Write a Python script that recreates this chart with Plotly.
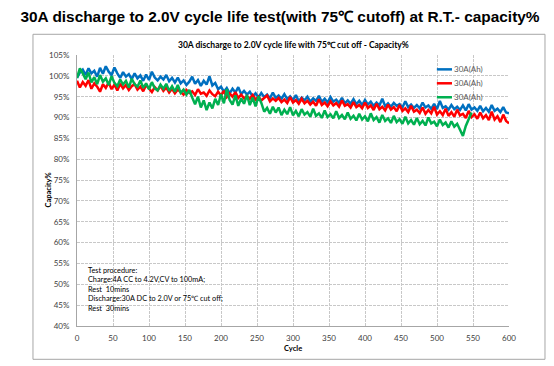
import plotly.graph_objects as go

# ---------------- data ----------------
step = 4
series_names = ["30A(Ah)", "30A(Ah)", "30A(Ah)"]
series_colors = ["#0070C0", "#FF0000", "#00B050"]

blue = [
    99.5, 100.8, 101.5, 100.2, 101.8, 100.6, 101.2, 99.8, 101.9, 100.5,
    102.3, 101.0, 100.2, 102.0, 100.6, 99.5, 100.9, 99.8, 100.4, 99.2,
    100.6, 99.4, 100.1, 98.8, 100.3, 99.0, 101.0, 99.6, 98.9, 99.8,
    99.1, 100.2, 98.7, 99.5, 98.4, 99.6, 98.2, 98.9, 97.8, 98.6,
    99.8, 98.1, 99.0, 97.6, 98.8, 97.9, 99.9, 97.7, 98.3, 96.8,
    97.4, 96.2, 97.1, 95.8, 96.9, 96.0, 97.3, 95.6, 96.4, 95.5,
    96.2, 95.0, 95.8, 94.8, 95.9, 94.9, 95.5, 94.6, 96.0, 94.7,
    95.3, 94.5, 95.6, 94.4, 95.1, 94.2, 95.4, 93.9, 94.8, 94.1,
    95.0, 93.8, 94.6, 94.0, 95.2, 93.7, 94.5, 93.6, 94.9, 93.8,
    94.3, 93.5, 94.7, 93.4, 94.1, 93.3, 94.4, 93.2, 94.0, 93.0,
    94.2, 93.1, 93.8, 92.8, 93.6, 92.9, 94.5, 92.7, 93.4, 92.6,
    93.5, 92.8, 93.2, 92.4, 93.9, 92.5, 93.1, 92.3, 93.0, 92.2,
    93.6, 92.4, 92.9, 92.1, 93.3, 92.0, 94.0, 92.3, 92.7, 91.9,
    93.0, 92.0, 92.6, 91.8, 92.9, 91.7, 93.2, 91.9, 92.4, 91.6,
    92.8, 91.5, 92.3, 91.4, 93.0, 91.6, 92.1, 91.3, 92.5, 91.2,
    91.0,
]

red = [
    98.8, 97.2, 98.5, 97.6, 99.0, 96.9, 98.2, 97.4, 96.2, 98.0,
    97.1, 98.4, 96.8, 97.9, 96.5, 98.1, 97.0, 97.8, 96.6, 97.5,
    98.0, 96.7, 97.4, 96.3, 97.8, 96.9, 96.1, 97.3, 96.5, 97.6,
    96.4, 97.2, 96.0, 96.9, 95.8, 96.7, 96.2, 95.5, 96.6, 95.9,
    96.3, 95.4, 96.8, 95.7, 96.0, 95.2, 96.5, 95.6, 95.1, 96.2,
    95.3, 96.4, 94.9, 95.8, 95.0, 96.1, 94.7, 95.5, 94.6, 95.2,
    94.5, 95.4, 94.3, 95.0, 94.1, 94.8, 95.3, 93.9, 94.6, 94.0,
    94.7, 93.7, 94.3, 93.5, 94.9, 93.6, 94.2, 93.3, 94.5, 93.4,
    94.0, 93.1, 93.8, 92.8, 94.4, 93.0, 93.6, 92.7, 93.9, 92.9,
    93.5, 92.6, 94.1, 92.8, 93.2, 92.4, 93.7, 92.5, 93.0, 92.2,
    93.6, 92.3, 92.9, 91.8, 93.3, 92.0, 92.6, 91.7, 93.1, 91.9,
    92.5, 91.5, 93.0, 91.6, 92.2, 91.3, 92.8, 91.4, 91.9, 91.1,
    92.4, 90.9, 91.8, 91.0, 92.6, 90.7, 91.5, 90.6, 92.1, 90.4,
    91.3, 90.2, 91.9, 90.5, 90.9, 89.9, 91.6, 90.1, 90.8, 89.7,
    91.2, 89.8, 90.6, 89.4, 91.4, 89.5, 90.3, 88.9, 90.7, 89.2,
    88.6,
]

green = [
    99.5, 101.8, 100.6, 99.2, 100.8, 98.4, 99.7, 98.0, 100.2, 98.6,
    99.4, 97.8, 99.9, 98.3, 97.5, 99.1, 97.9, 98.8, 97.2, 99.3,
    98.0, 97.4, 98.9, 97.1, 98.2, 96.8, 98.5, 97.0, 96.5, 97.9,
    96.9, 98.1, 96.4, 97.5, 96.2, 97.8, 95.9, 96.7, 95.5, 96.6,
    94.8, 93.2, 95.0, 92.4, 94.1, 91.8, 93.6, 92.2, 94.5, 93.0,
    95.6, 93.4, 96.8, 94.2, 93.1, 95.3, 92.8, 94.6, 93.3, 95.4,
    93.0, 94.8, 92.7, 95.1, 93.5, 91.4, 92.3, 90.9, 92.6, 91.2,
    92.4, 90.6, 91.9, 90.8, 92.5, 90.5, 91.6, 90.3, 92.0, 90.7,
    91.3, 90.2, 92.1, 90.4, 91.0, 89.9, 91.7, 90.1, 90.8, 89.8,
    91.5, 89.9, 90.6, 89.6, 91.2, 89.7, 90.4, 89.3, 90.9, 89.5,
    90.3, 89.1, 91.0, 89.4, 90.1, 88.8, 90.6, 89.2, 89.8, 88.7,
    90.4, 88.9, 89.6, 88.5, 90.2, 88.6, 89.4, 88.3, 89.9, 88.4,
    89.2, 88.1, 90.0, 88.6, 89.0, 87.9, 89.5, 88.2, 88.8, 87.6,
    89.1, 87.8, 88.5, 86.9, 85.6, 88.0, 89.6, 91.2,
]

y_ticks = list(range(40, 106, 5))
x_ticks = list(range(0, 601, 50))

main_title = "30A discharge to 2.0V cycle life test(with 75\u2103 cutoff) at R.T.- capacity%"
chart_title = "30A discharge to 2.0V cycle life with 75\u2103 cut off - Capacity%"
note_lines = [
    "Test procedure:",
    "Charge:4A CC to 4.2V,CV to 100mA;",
    "Rest  10mins",
    "Discharge:30A DC to 2.0V or 75\u2103 cut off;",
    "Rest  30mins",
]

# ---------------- figure ----------------
# the page body has an 8px margin, so the figure is 8px smaller than the window
FONT = "Lato"
W, H, OFF = 546, 358, 8
fig = go.Figure()
for vals, name, col in zip([blue, red, green], series_names, series_colors):
    cycles = [i * step for i in range(len(vals))]
    fig.add_trace(go.Scatter(x=cycles, y=[v / 100 for v in vals], mode="lines",
                             name=name, line=dict(color=col, width=2.5),
                             showlegend=False))

# manual legend (compact, like the original)
leg_y = [0.947, 0.8956, 0.844]
for name, col, yy in zip(series_names, series_colors, leg_y):
    fig.add_shape(type="line", xref="paper", yref="paper", x0=0.833, x1=0.868,
                  y0=yy, y1=yy, line=dict(color=col, width=2.5))
    fig.add_annotation(xref="paper", yref="paper", x=0.869, y=yy, text=name,
                       showarrow=False, xanchor="left", yanchor="middle",
                       font=dict(family=FONT, size=8, color="#595959"))

# outer chart frame
fig.add_shape(type="rect", xref="paper", yref="paper", x0=-0.1019, x1=1.0833,
              y0=-0.1229, y1=1.0764, line=dict(color="#a6a6a6", width=1),
              layer="below")

fig.add_annotation(xref="paper", yref="paper", x=0.5, y=1.036, text="<b>" + chart_title + "</b>",
                   showarrow=False, xanchor="center", yanchor="middle",
                   font=dict(family=FONT, size=8.5, color="#000000"))
fig.add_annotation(xref="paper", yref="paper", x=-0.067, y=0.5, text="<b>Capacity%</b>",
                   showarrow=False, textangle=-90, xanchor="center", yanchor="middle",
                   font=dict(family=FONT, size=7.5, color="#000000"))
fig.add_annotation(xref="paper", yref="paper", x=0.5, y=-0.082, text="<b>Cycle</b>",
                   showarrow=False, xanchor="center", yanchor="middle",
                   font=dict(family=FONT, size=7.5, color="#000000"))
fig.add_annotation(xref="paper", yref="paper", x=0.0208, y=0.228, text="<br>".join(note_lines),
                   showarrow=False, xanchor="left", yanchor="top", align="left",
                   font=dict(family=FONT, size=7.3, color="#000000"))

fig.update_layout(
    width=W, height=H,
    margin=dict(l=77 - OFF, r=45, t=55 - OFF, b=40),
    paper_bgcolor="white", plot_bgcolor="white",
    title=dict(text="<b>" + main_title + "</b>", x=(280 - OFF) / W, xanchor="center",
               y=1 - 3 / H, yanchor="top",
               font=dict(family="Liberation Sans, Arial", size=15.4, color="#000000")),
    xaxis=dict(range=[0, 600], tickvals=x_ticks, showgrid=True, gridcolor="#c8c8c8",
               griddash="3px,1px", gridwidth=1, showline=True, linecolor="#a6a6a6",
               zeroline=False, ticks="", ticklabelstandoff=4,
               tickfont=dict(family=FONT, size=8, color="#404040")),
    yaxis=dict(range=[0.40, 1.05], tickvals=[t / 100 for t in y_ticks],
               ticktext=[f"{t}%" for t in y_ticks], showgrid=True, gridcolor="#c8c8c8",
               griddash="3px,1px", gridwidth=1, showline=True, linecolor="#a6a6a6",
               zeroline=False, ticks="", ticklabelstandoff=5,
               tickfont=dict(family=FONT, size=8, color="#404040")),
)

fig.write_html("out.html")
